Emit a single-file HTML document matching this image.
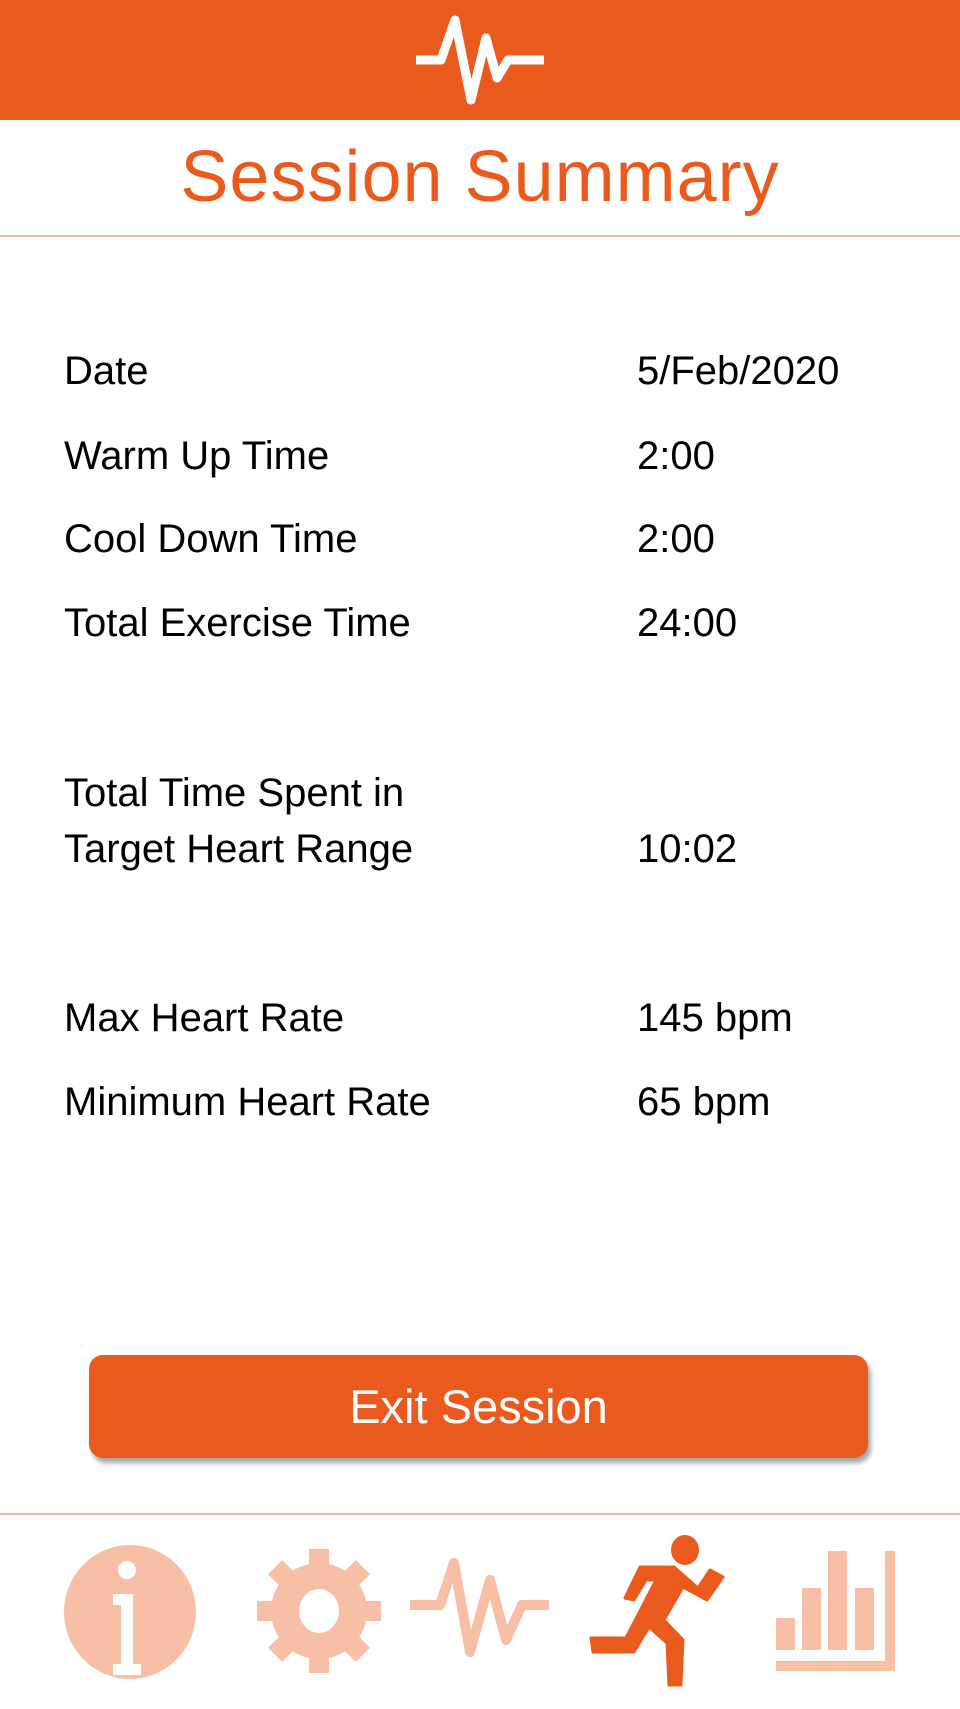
<!DOCTYPE html>
<html><head><meta charset="utf-8"><style>
body{margin:0;width:960px;height:1709px;background:#fff;position:relative;overflow:hidden;font-family:"Liberation Sans",sans-serif}
.hdr{position:absolute;left:0;top:0;width:960px;height:120px;background:#EB5A1D}
.title{position:absolute;left:0;width:960px;top:136px;text-align:center;font-size:72px;color:#EB5A1D;letter-spacing:1px}
.rule{position:absolute;left:0;width:960px;height:2px;background:#E8BBA2}
.lab,.val{position:absolute;font-size:40px;color:#000;line-height:56px}
.lab{left:64px}.val{left:637px}
.btn{position:absolute;left:89px;top:1355px;width:779px;height:103px;background:#EB5A1D;border-radius:14px;box-shadow:3px 5px 5px rgba(0,0,0,.35);color:#fff;font-size:47px;text-align:center;line-height:103px}
svg{position:absolute;left:0;top:0}
</style></head><body>
<div class="hdr"></div>
<svg width="960" height="1709">
<polyline points="416,60 441,60 455,20 471,100 486,38 497,78 508,60 544,60" fill="none" stroke="#fff" stroke-width="9" stroke-linejoin="round"/>
<g><ellipse cx="130" cy="1612" rx="66" ry="67" fill="#F7BFA6"/><circle cx="127" cy="1570" r="9" fill="#fff"/><path d="M113 1594h20v70h8v11h-28v-11h8v-59h-8z" fill="#fff"/></g>
<g><circle cx="319" cy="1611" r="48" fill="#F7BFA6"/>
<g fill="#F7BFA6"><rect x="309" y="1549" width="20" height="124"/><rect x="309" y="1549" width="20" height="124" transform="rotate(45 319 1611)"/><rect x="309" y="1549" width="20" height="124" transform="rotate(90 319 1611)"/><rect x="309" y="1549" width="20" height="124" transform="rotate(135 319 1611)"/></g><ellipse cx="319" cy="1611" rx="20" ry="22" fill="#fff"/></g>
<polyline points="410,1605 440,1605 454,1563 470,1652 490,1580 506,1640 522,1605 549,1605" fill="none" stroke="#F7BFA6" stroke-width="10" stroke-linejoin="round"/>
<g fill="#EB5A1D"><ellipse cx="685" cy="1550" rx="14" ry="15"/>
<polygon points="640,1567 674,1567 698,1588 710,1570 723,1577 707,1600 683,1587 664,1620 683,1640 681,1685 669,1685 667,1643 649,1627 634,1652 593,1652 591,1638 626,1638 656,1580 646,1580 634,1600 625,1598" stroke="#EB5A1D" stroke-width="3" stroke-linejoin="round"/></g>
<g fill="#F7BFA6"><rect x="776" y="1618" width="19" height="32"/><rect x="802" y="1588" width="19" height="62"/><rect x="828" y="1551" width="19" height="99"/><rect x="855" y="1588" width="19" height="62"/><rect x="885" y="1551" width="10" height="120"/><rect x="776" y="1661" width="119" height="10"/></g>
</svg>
<div class="title">Session Summary</div>
<div class="rule" style="top:235px"></div>
<div class="lab" style="top:343px">Date</div>
<div class="val" style="top:343px">5/Feb/2020</div>
<div class="lab" style="top:428px">Warm Up Time</div>
<div class="val" style="top:428px">2:00</div>
<div class="lab" style="top:511px">Cool Down Time</div>
<div class="val" style="top:511px">2:00</div>
<div class="lab" style="top:595px">Total Exercise Time</div>
<div class="val" style="top:595px">24:00</div>
<div class="lab" style="top:765px">Total Time Spent in<br>Target Heart Range</div>
<div class="val" style="top:821px">10:02</div>
<div class="lab" style="top:990px">Max Heart Rate</div>
<div class="val" style="top:990px">145 bpm</div>
<div class="lab" style="top:1074px">Minimum Heart Rate</div>
<div class="val" style="top:1074px">65 bpm</div>
<div class="btn">Exit Session</div>
<div class="rule" style="top:1513px"></div>
</body></html>
